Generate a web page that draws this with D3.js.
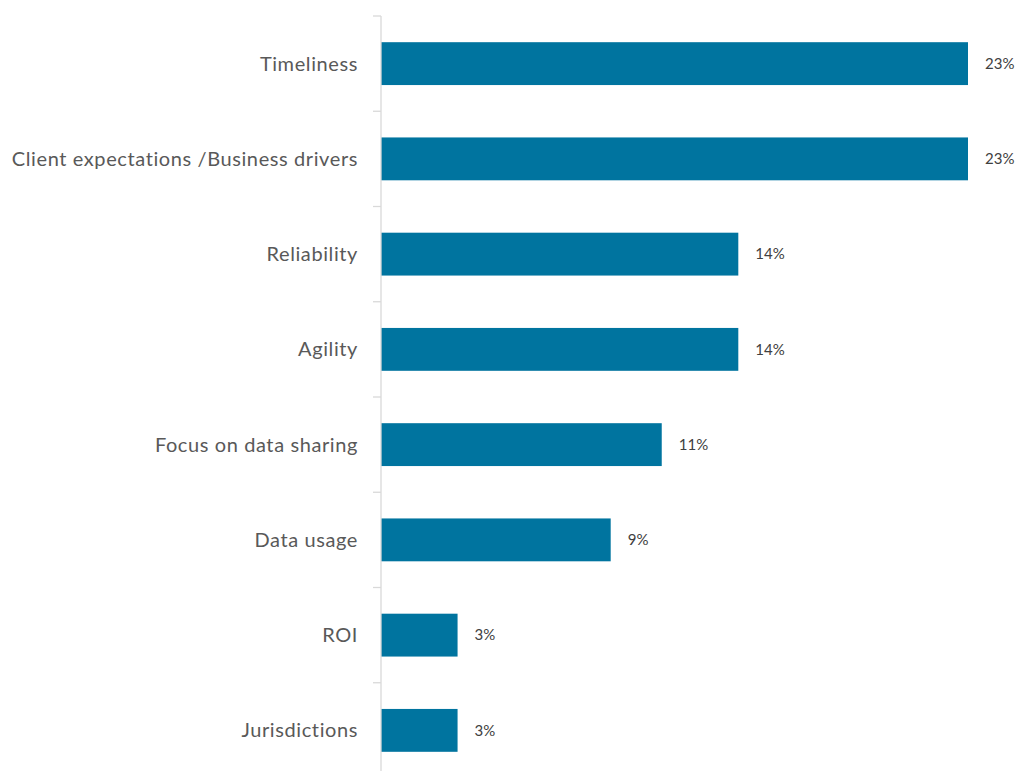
<!DOCTYPE html>
<html>
<head>
<meta charset="utf-8">
<script src="https://cdn.jsdelivr.net/npm/d3@7"></script>
<style>
  html, body { margin: 0; padding: 0; background: #ffffff; }
  svg { display: block; }
</style>
</head>
<body>
<div id="chart"></div>
<script>
// Categories, top to bottom
const categories = [
  "Timeliness",
  "Client expectations /Business drivers",
  "Reliability",
  "Agility",
  "Focus on data sharing",
  "Data usage",
  "ROI",
  "Jurisdictions"
];
// Share of respondents (%)
const values = [23, 23, 14, 14, 11, 9, 3, 3];

const width = 1031, height = 771;
const margin = { top: 16, right: 40, bottom: -7, left: 381 };

const svg = d3.select("#chart").append("svg")
  .attr("width", width)
  .attr("height", height);

const x = d3.scaleLinear()
  .domain([0, 23])
  .range([margin.left, margin.left + 587]);

const y = d3.scaleBand()
  .domain(categories)
  .range([margin.top, height - margin.bottom])
  .paddingInner(0.55)
  .paddingOuter(0.275);

// Bars
svg.append("g")
  .selectAll("rect")
  .data(categories)
  .join("rect")
  .attr("x", x(0))
  .attr("y", d => y(d))
  .attr("width", (d, i) => x(values[i]) - x(0))
  .attr("height", y.bandwidth())
  .attr("fill", "#00749f");

// Category axis with ticks at band boundaries
const axisG = svg.append("g").attr("transform", `translate(${x(0)},0)`);
axisG.append("line")
  .attr("x1", 0).attr("x2", 0)
  .attr("y1", margin.top).attr("y2", height - margin.bottom)
  .attr("stroke", "#d9d9d9").attr("stroke-width", 1.3);
const boundaries = categories.map(d => y(d) - y.step() * y.paddingInner() / 2);
axisG.selectAll("line.tick")
  .data(boundaries)
  .join("line")
  .attr("class", "tick")
  .attr("x1", -8).attr("x2", 0)
  .attr("y1", d => d).attr("y2", d => d)
  .attr("stroke", "#d9d9d9").attr("stroke-width", 1.3);

axisG.selectAll("text")
  .data(categories)
  .join("text")
  .attr("x", -23)
  .attr("y", d => y(d) + y.bandwidth() / 2)
  .attr("dy", "0.35em")
  .attr("text-anchor", "end")
  .attr("font-family", "Lato, 'Open Sans', sans-serif")
  .attr("font-size", 20)
  .attr("letter-spacing", 0.6)
  .attr("fill", "#595959")
  .text(d => d);

// Value labels
svg.append("g")
  .selectAll("text")
  .data(categories)
  .join("text")
  .attr("x", (d, i) => x(values[i]) + 17)
  .attr("y", d => y(d) + y.bandwidth() / 2)
  .attr("dy", "0.35em")
  .attr("font-family", "Lato, 'Open Sans', sans-serif")
  .attr("font-size", 15)
  .attr("fill", "#404040")
  .text((d, i) => values[i] + "%");
</script>
</body>
</html>
